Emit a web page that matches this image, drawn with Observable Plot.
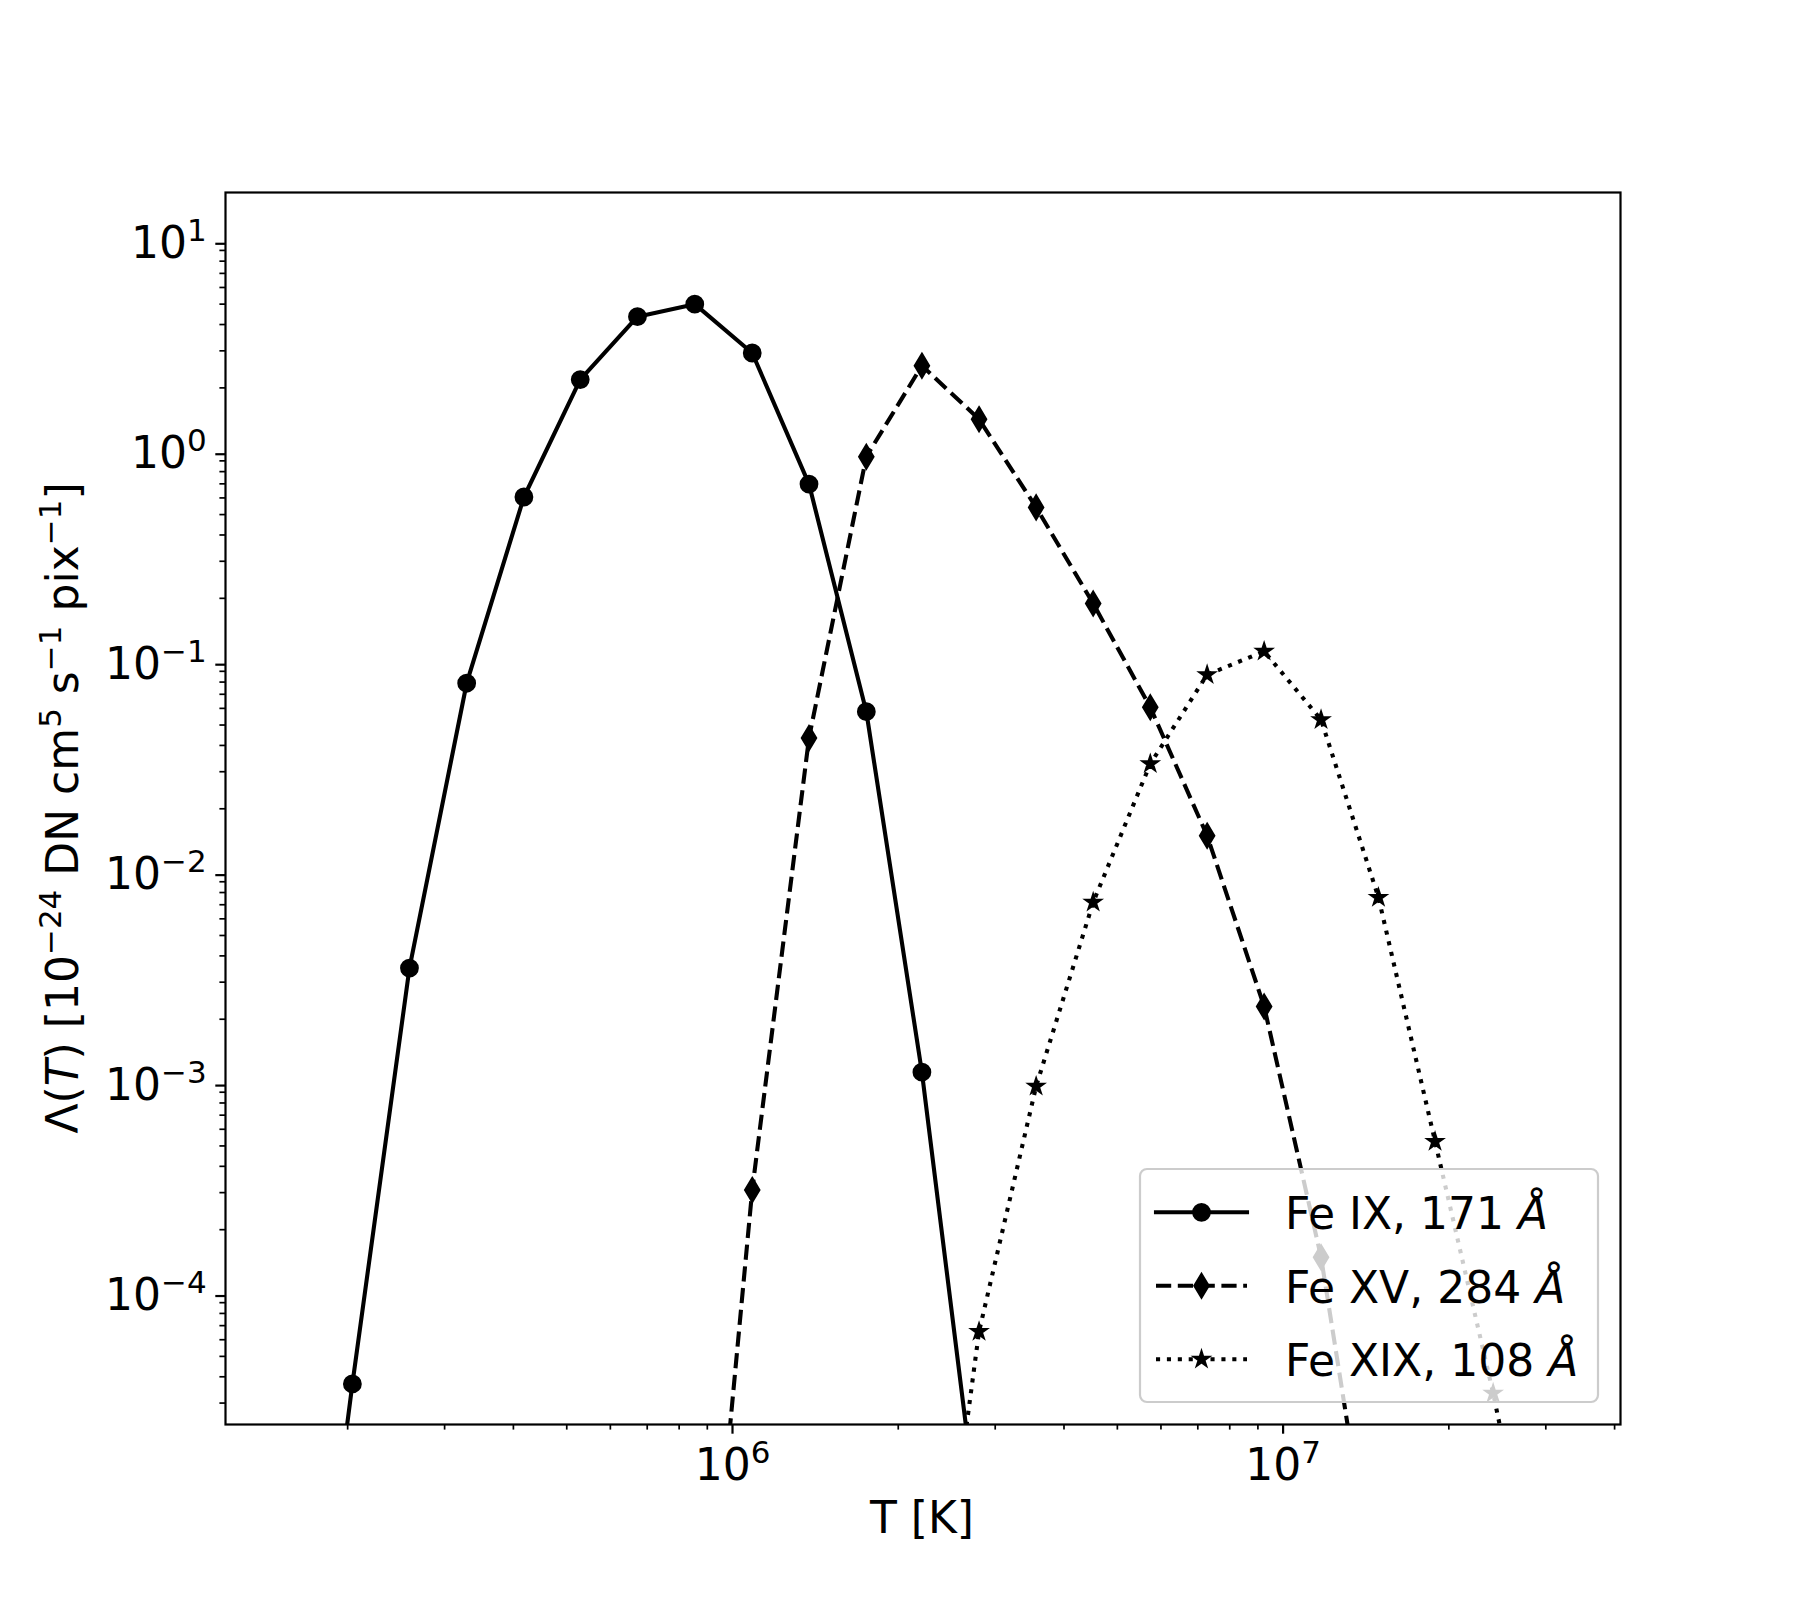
<!DOCTYPE html>
<html>
<head>
<meta charset="utf-8">
<script src="https://cdn.jsdelivr.net/npm/d3@7"></script>
<script src="https://cdn.jsdelivr.net/npm/@observablehq/plot@0.6"></script>
<style>
html, body { margin: 0; padding: 0; background: #fff; }
#chart { width: 1800px; height: 1600px; }
svg text { font-family: "DejaVu Sans", sans-serif; }
</style>
</head>
<body>
<div id="chart"></div>
<script>
// ---- Data (T in K, Lambda in 1e-24 DN cm^5 s^-1 pix^-1) ----
const seriesNames = ["Fe IX, 171 ", "Fe XV, 284 ", "Fe XIX, 108 "];

const tempFeIX   = [1.61e5, 2.04e5, 2.59e5, 3.29e5, 4.18e5, 5.29e5, 6.72e5, 8.54e5, 1.086e6, 1.377e6, 1.750e6, 2.208e6, 2.804e6];
const lambdaFeIX = [3e-7, 3.7e-5, 3.5e-3, 0.079, 0.606, 2.19, 4.36, 5.0, 2.93, 0.698, 0.0579, 1.12e-3, 7.4e-6];

const tempFeXV   = [8.54e5, 1.086e6, 1.377e6, 1.750e6, 2.208e6, 2.804e6, 3.560e6, 4.519e6, 5.738e6, 7.278e6, 9.237e6, 1.172e7, 1.490e7];
const lambdaFeXV = [3.8e-7, 3.09e-4, 0.0434, 0.942, 2.55, 1.42, 0.541, 0.189, 0.0607, 0.0149, 2.30e-3, 1.48e-4, 2.8e-6];

const tempFeXIX   = [2.208e6, 2.804e6, 3.560e6, 4.519e6, 5.738e6, 7.278e6, 9.237e6, 1.172e7, 1.490e7, 1.888e7, 2.407e7, 3.05e7];
const lambdaFeXIX = [6e-7, 6.56e-5, 9.6e-4, 7.19e-3, 0.0327, 0.0867, 0.112, 0.053, 7.58e-3, 5.25e-4, 3.34e-5, 1.7e-6];

const xMajorTicks = [1e6, 1e7];
const xMinorTicks = [2e5, 3e5, 4e5, 5e5, 6e5, 7e5, 8e5, 9e5, 2e6, 3e6, 4e6, 5e6, 6e6, 7e6, 8e6, 9e6, 2e7, 3e7, 4e7];
const yMajorTicks = [1e-4, 1e-3, 1e-2, 1e-1, 1e0, 1e1];
const yMinorTicks = [3e-5, 4e-5, 5e-5, 6e-5, 7e-5, 8e-5, 9e-5,
  2e-4, 3e-4, 4e-4, 5e-4, 6e-4, 7e-4, 8e-4, 9e-4,
  2e-3, 3e-3, 4e-3, 5e-3, 6e-3, 7e-3, 8e-3, 9e-3,
  2e-2, 3e-2, 4e-2, 5e-2, 6e-2, 7e-2, 8e-2, 9e-2,
  2e-1, 3e-1, 4e-1, 5e-1, 6e-1, 7e-1, 8e-1, 9e-1,
  2, 3, 4, 5, 6, 7, 8, 9];

// ---- build tables ----
const toRows = (T, L) => T.map((t, i) => ({T: t, L: L[i]}));
const dFeIX = toRows(tempFeIX, lambdaFeIX);
const dFeXV = toRows(tempFeXV, lambdaFeXV);
const dFeXIX = toRows(tempFeXIX, lambdaFeXIX);

// thin diamond like matplotlib 'd'
const thinDiamond = {
  draw(ctx, size) {
    const r = Math.sqrt(size / Math.PI);
    ctx.moveTo(0, -1.5 * r);
    ctx.lineTo(0.9 * r, 0);
    ctx.lineTo(0, 1.5 * r);
    ctx.lineTo(-0.9 * r, 0);
    ctx.closePath();
  }
};

const LW = 4.1;
const styles = [
  {dash: null, symbol: "circle", r: 8.2, sw: 2.4},
  {dash: "15.2,6.6", symbol: thinDiamond, r: 7.8, sw: 2.4},
  {dash: "4.1,6.8", symbol: "star", r: 4.9, sw: 2.0}
];

const expFmt = d => "10^" + String(Math.round(Math.log10(d))).replace("-", "\u2212");

const seriesData = [dFeIX, dFeXV, dFeXIX];
const seriesMarks = [];
seriesData.forEach((data, i) => {
  const s = styles[i];
  seriesMarks.push(Plot.line(data, {
    x: "T", y: "L", stroke: "black", strokeWidth: LW,
    strokeDasharray: s.dash, strokeLinejoin: "round",
    strokeLinecap: s.dash ? "butt" : "square", clip: true
  }));
  seriesMarks.push(Plot.dot(data, {
    x: "T", y: "L", symbol: s.symbol, r: s.r, fill: "black",
    stroke: "black", strokeWidth: s.sw, strokeLinejoin: "miter", clip: true
  }));
});

const chart = Plot.plot({
  width: 1800,
  height: 1600,
  marginLeft: 225,
  marginRight: 180,
  marginTop: 192,
  marginBottom: 176,
  style: {background: "white", color: "black", fontFamily: "DejaVu Sans", fontSize: "44px", overflow: "visible"},
  x: {type: "log", domain: [1.2e5, 4.1e7]},
  y: {type: "log", domain: [2.373e-5, 16.96]},
  marks: [
    ...seriesMarks,
    Plot.axisX({ticks: xMajorTicks, tickSize: 9.7, tickPadding: 15, strokeWidth: 2.2, tickFormat: expFmt, label: null, fontSize: 44}),
    Plot.axisX({ticks: xMinorTicks, tickSize: 5.6, strokeWidth: 1.7, tickFormat: () => "", label: null}),
    Plot.axisY({ticks: yMajorTicks, tickSize: 9.7, tickPadding: 9, strokeWidth: 2.2, tickFormat: expFmt, label: null, fontSize: 44, dy: 3}),
    Plot.axisY({ticks: yMinorTicks, tickSize: 5.6, strokeWidth: 1.7, tickFormat: () => "", label: null}),
    Plot.frame({stroke: "black", strokeWidth: 2.2})
  ]
});

document.getElementById("chart").appendChild(chart);
const svg = d3.select(chart);

// superscript exponents in tick labels
svg.selectAll("text").each(function () {
  const t = d3.select(this);
  const s = this.textContent;
  const m = s.match(/^10\^(.+)$/);
  if (!m) return;
  t.text("10");
  t.append("tspan").attr("font-size", "31px").attr("dy", "-17").text(m[1]);
});

// axis labels
svg.append("text")
  .attr("x", 922).attr("y", 1533)
  .attr("text-anchor", "middle")
  .attr("font-size", 44)
  .attr("fill", "black")
  .text("T [K]");

const yl = svg.append("text")
  .attr("transform", "translate(78,808) rotate(-90)")
  .attr("text-anchor", "middle")
  .attr("font-size", 44)
  .attr("fill", "black");
const addPart = (txt, opts = {}) => {
  const ts = yl.append("tspan").text(txt);
  if (opts.sup) ts.attr("font-size", 31).attr("dy", -17);
  if (opts.down) ts.attr("dy", 17);
  if (opts.italic) ts.attr("font-style", "italic");
  return ts;
};
addPart("\u039B(");
addPart("T", {italic: true});
addPart(") [10");
addPart("\u221224", {sup: true});
addPart(" DN cm", {down: true});
addPart("5", {sup: true});
addPart(" s", {down: true});
addPart("\u22121", {sup: true});
addPart(" pix", {down: true});
addPart("\u22121", {sup: true});
addPart("]", {down: true});

// legend
const lg = svg.append("g");
lg.append("rect")
  .attr("x", 1140).attr("y", 1169).attr("width", 458).attr("height", 233)
  .attr("rx", 7).attr("ry", 7)
  .attr("fill", "white").attr("fill-opacity", 0.8)
  .attr("stroke", "#cccccc").attr("stroke-width", 2.2);
const rowY = [1212.3, 1285.7, 1359.3];
seriesNames.forEach((name, i) => {
  const s = styles[i];
  const y = rowY[i];
  lg.append("line")
    .attr("x1", 1156).attr("x2", 1247).attr("y1", y).attr("y2", y)
    .attr("stroke", "black").attr("stroke-width", LW)
    .attr("stroke-dasharray", s.dash)
    .attr("stroke-linecap", s.dash ? "butt" : "square");
  const sym = typeof s.symbol === "string"
    ? (s.symbol === "circle" ? d3.symbolCircle : d3.symbolStar)
    : s.symbol;
  lg.append("path")
    .attr("transform", `translate(1201.5,${y})`)
    .attr("d", d3.symbol(sym, Math.PI * s.r * s.r)())
    .attr("fill", "black").attr("stroke", "black")
    .attr("stroke-width", s.sw).attr("stroke-linejoin", "miter");
  const tx = lg.append("text")
    .attr("x", 1285).attr("y", y + 17)
    .attr("text-anchor", "start")
    .attr("font-size", 44).attr("fill", "black");
  tx.append("tspan").text(name);
  tx.append("tspan").attr("font-style", "italic").text("\u00C5");
});
</script>
</body>
</html>
